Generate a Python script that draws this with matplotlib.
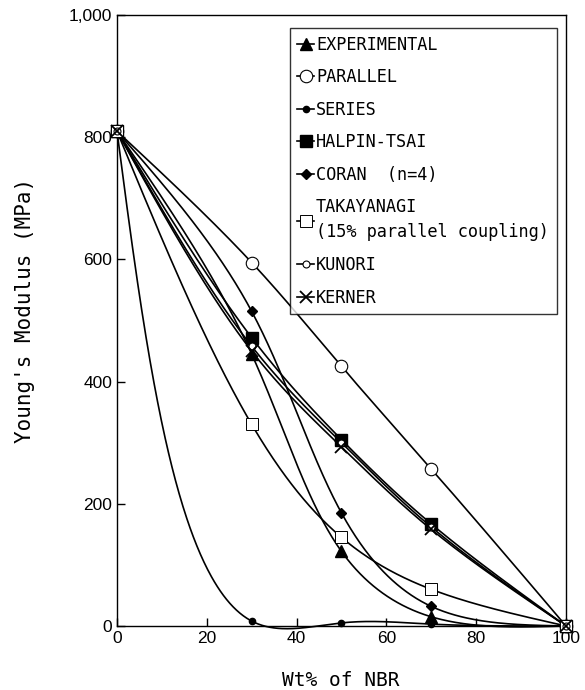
import numpy as np
import matplotlib
matplotlib.use("Agg")
import matplotlib.pyplot as plt

# Data
wt_nbr = [0, 30, 50, 70, 100]
experimental = [810, 445, 122, 15, 0]
parallel = [810, 595, 425, 257, 0]
series = [810, 8, 5, 3, 0]
halpin_tsai = [810, 472, 305, 167, 0]
coran = [810, 515, 185, 32, 0]
takayanagi = [810, 330, 145, 60, 0]
kunori = [810, 458, 300, 162, 0]
kerner = [810, 450, 293, 158, 0]


def spline_eval(t, v, ts):
    # natural cubic spline v(t), evaluated at ts
    k = len(t)
    h = np.diff(t)
    A = np.zeros((k, k))
    b = np.zeros(k)
    A[0, 0] = 1
    A[-1, -1] = 1
    for i in range(1, k - 1):
        A[i, i - 1] = h[i - 1]
        A[i, i] = 2 * (h[i - 1] + h[i])
        A[i, i + 1] = h[i]
        b[i] = 6 * ((v[i + 1] - v[i]) / h[i] - (v[i] - v[i - 1]) / h[i - 1])
    M = np.linalg.solve(A, b)
    idx = np.clip(np.searchsorted(t, ts) - 1, 0, k - 2)
    hh = t[idx + 1] - t[idx]
    t0 = t[idx + 1] - ts
    t1 = ts - t[idx]
    return (M[idx] * t0**3 + M[idx + 1] * t1**3) / (6 * hh) \
        + (v[idx] / hh - M[idx] * hh / 6) * t0 \
        + (v[idx + 1] / hh - M[idx + 1] * hh / 6) * t1


def smooth_curve(x, y, n=400, alpha=0.6):
    # parametric spline through the points, knots spaced by screen distance
    x = np.asarray(x, float)
    y = np.asarray(y, float)
    px, py = x * 4.49, y * 0.611
    d = np.hypot(np.diff(px), np.diff(py)) ** alpha
    t = np.concatenate([[0], np.cumsum(d)])
    ts = np.linspace(0, t[-1], n)
    return spline_eval(t, x, ts), spline_eval(t, y, ts)


fig = plt.figure(figsize=(5.85, 6.9), dpi=100)
ax = fig.add_axes([0.2, 0.0928, 0.7675, 0.8852])

series_list = [
    ("EXPERIMENTAL", experimental, dict(marker="^", ms=8, mfc="black")),
    ("PARALLEL", parallel, dict(marker="o", ms=9, mfc="white", mew=0.8)),
    ("SERIES", series, dict(marker="o", ms=4.5, mfc="black")),
    ("HALPIN-TSAI", halpin_tsai, dict(marker="s", ms=8, mfc="black")),
    ("CORAN  (n=4)", coran, dict(marker="D", ms=5.5, mfc="black")),
    ("TAKAYANAGI\n(15% parallel coupling)", takayanagi,
     dict(marker="s", ms=8, mfc="white", mew=0.7)),
    ("KUNORI", kunori, dict(marker="o", ms=5, mfc="white", mew=0.8)),
    ("KERNER", kerner, dict(marker="x", ms=8, mew=1.3)),
]

for label, vals, style in series_list:
    xs, ys = smooth_curve(wt_nbr, vals)
    ax.plot(xs, ys, color="black", lw=1.2, clip_on=False)
    ax.plot(wt_nbr, vals, linestyle="none", color="black", mec="black",
            clip_on=False, zorder=3, **style)
    ax.plot([], [], color="black", lw=1.2, mec="black", label=label, **style)

ax.set_xlim(0, 100)
ax.set_ylim(0, 1000)
ax.set_xticks([0, 20, 40, 60, 80, 100])
ax.set_yticks([0, 200, 400, 600, 800, 1000])
ax.set_yticklabels(["0", "200", "400", "600", "800", "1,000"])
ax.tick_params(direction="in", length=6, width=1, labelsize=12.5)
for lab in ax.get_xticklabels() + ax.get_yticklabels():
    lab.set_fontfamily("Liberation Sans")
for sp in ax.spines.values():
    sp.set_linewidth(1.0)

ax.set_xlabel("Wt% of NBR", fontsize=14, family="DejaVu Sans Mono", va="center")
ax.xaxis.set_label_coords(0.499, -0.09)
ax.set_ylabel("Young's Modulus (MPa)", fontsize=15, family="DejaVu Sans Mono",
              va="center")
ax.yaxis.set_label_coords(-0.205, 0.516)

leg = ax.legend(loc="upper left", bbox_to_anchor=(0.385, 0.979), frameon=True,
                fancybox=False, edgecolor="black", handlelength=0.95,
                handletextpad=0.15, labelspacing=0.86, borderpad=0.45,
                borderaxespad=0,
                prop={"family": "DejaVu Sans Mono", "size": 12.2})
leg.get_frame().set_linewidth(1.0)
for txt in leg.get_texts():
    txt.set_linespacing(1.5)

fig.savefig("out.png", dpi=100)
